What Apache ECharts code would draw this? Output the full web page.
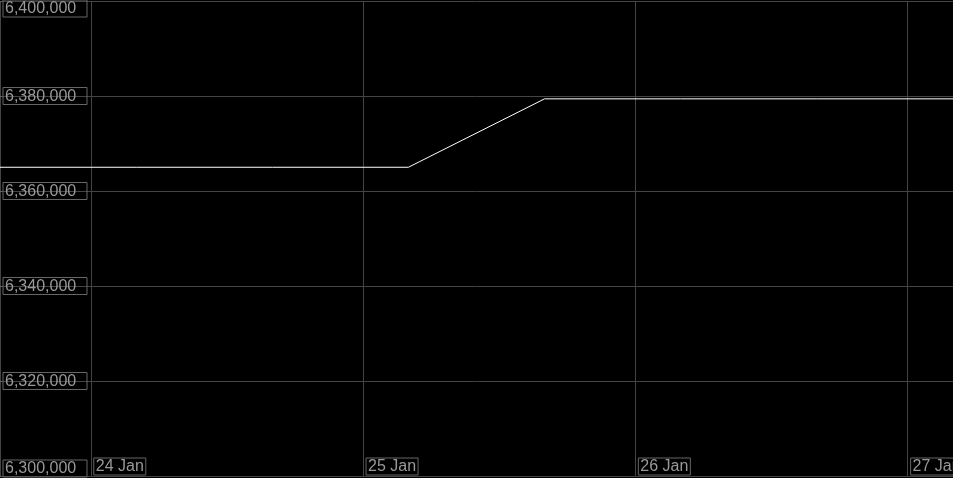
<!DOCTYPE html>
<html>
<head>
<meta charset="utf-8">
<script src="https://cdn.jsdelivr.net/npm/echarts@6/dist/echarts.min.js"></script>
<style>
html,body{margin:0;padding:0;background:#000;}
#c{width:953px;height:478px;}
</style>
</head>
<body>
<div id="c"></div>
<script>
// Data
const times = [
  '2024-01-23T16:00', '2024-01-24T04:00', '2024-01-24T16:00', '2024-01-25T04:00',
  '2024-01-25T16:00', '2024-01-26T04:00', '2024-01-26T16:00', '2024-01-27T04:00'
];
const values = [6365000, 6365000, 6365000, 6365000, 6379400, 6379400, 6379400, 6379400];
const xMin = '2024-01-23T16:00';
const xMax = '2024-01-27T04:00';
const yMin = 6300000, yMax = 6400000, yStep = 20000;
const monthNames = ['Jan','Feb','Mar','Apr','May','Jun','Jul','Aug','Sep','Oct','Nov','Dec'];

const toTs = s => new Date(s).getTime();
const seriesData = times.map((t, i) => [toTs(t), values[i]]);

const chart = echarts.init(document.getElementById('c'), null, {renderer: 'canvas'});
chart.setOption({
  backgroundColor: '#000',
  animation: false,
  grid: {left: 0, right: 0, top: 1, bottom: 2, containLabel: false, outerBoundsMode: 'none'},
  xAxis: {
    type: 'time',
    min: toTs(xMin),
    max: toTs(xMax),
    minInterval: 86400000,
    maxInterval: 86400000,
    axisLine: {show: true, lineStyle: {color: '#444'}},
    axisTick: {show: false},
    splitLine: {show: true, lineStyle: {color: '#444', width: 1}},
    axisLabel: {
      inside: true,
      margin: 2,
      align: 'left',
      padding: [0, 0, 0, 3],
      formatter: function (v) {
        const d = new Date(v);
        return '{b|' + d.getDate() + ' ' + monthNames[d.getMonth()] + '}';
      },
      rich: {
        b: {
          color: '#999',
          fontFamily: 'Liberation Sans, Arial, sans-serif',
          fontSize: 16,
          lineHeight: 15,
          borderColor: '#666',
          borderWidth: 1,
          padding: [1, 2, 0, 2]
        }
      }
    }
  },
  yAxis: {
    type: 'value',
    min: yMin,
    max: yMax,
    interval: yStep,
    axisLine: {show: false},
    axisTick: {show: true, inside: true, length: 2, lineStyle: {color: '#666'}},
    splitLine: {show: true, lineStyle: {color: '#444', width: 1}},
    axisLabel: {
      inside: true,
      margin: 3,
      verticalAlignMinLabel: 'bottom',
      verticalAlignMaxLabel: 'top',
      formatter: function (v) {
        return '{b|' + v.toLocaleString('en-US') + '}';
      },
      rich: {
        b: {
          color: '#999',
          fontFamily: 'Liberation Sans, Arial, sans-serif',
          fontSize: 16,
          lineHeight: 15,
          borderColor: '#666',
          borderWidth: 1,
          width: 80,
          padding: [1, 2, 0, 2]
        }
      }
    }
  },
  series: [{
    type: 'line',
    data: seriesData,
    showSymbol: false,
    symbol: 'none',
    lineStyle: {color: '#fff', width: 1},
    itemStyle: {color: '#fff'}
  }]
});
</script>
</body>
</html>
